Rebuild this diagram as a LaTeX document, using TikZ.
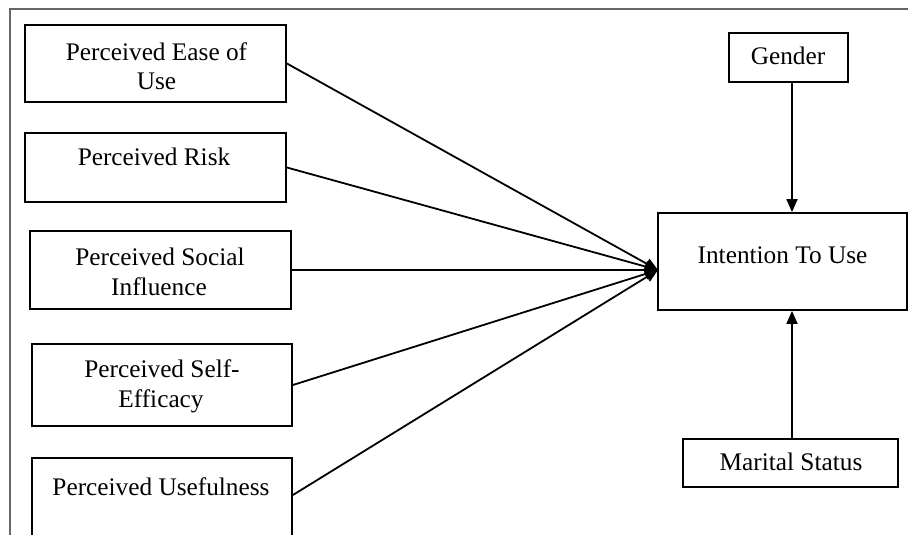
\documentclass[tikz,border=0pt]{standalone}
\usepackage{fontspec}
\setmainfont{Liberation Serif}
\usetikzlibrary{arrows.meta}
\begin{document}
\begin{tikzpicture}[x=1pt,y=-1pt,
  box/.style={draw=black,line width=1.8pt,inner sep=0pt,rectangle},
  txt/.style={anchor=base,inner sep=0pt,font=\fontsize{25.3}{30}\selectfont},
  arr/.style={line width=1.8pt,-{Triangle[length=13pt,width=11pt]}},
  frame/.style={draw=black!60,line width=1.3pt}]
\useasboundingbox (0,0) rectangle (908,535);
\clip (0,0) rectangle (908,535);
\fill[white] (0,0) rectangle (908,535);
\draw[frame] (10,540) -- (10,9) -- (910,9);
% left boxes
\node[box,minimum width=261pt,minimum height=77pt] (b1) at (155.5,63.5) {};
\node[box,minimum width=261pt,minimum height=69pt] (b2) at (155.5,167.5) {};
\node[box,minimum width=261pt,minimum height=78pt] (b3) at (160.5,270) {};
\node[box,minimum width=260pt,minimum height=82pt] (b4) at (162,385) {};
\node[box,minimum width=260pt,minimum height=80pt] (b5) at (162,498) {};
% right boxes
\node[box,minimum width=119pt,minimum height=49pt] (g) at (788.5,57.5) {};
\node[box,minimum width=249pt,minimum height=97pt] (it) at (782.5,261.5) {};
\node[box,minimum width=215pt,minimum height=48pt] (m) at (790.5,463) {};
% texts
\node[txt] (t1a) at (156.5,60) {Perceived Ease of};
\node[txt] (t1b) at (156.5,89) {Use};
\node[txt] (t2) at (154,165) {Perceived Risk};
\node[txt] (t3a) at (160,265) {Perceived Social};
\node[txt] (t3b) at (159,295) {Influence};
\node[txt] (t4a) at (162,377) {Perceived Self-};
\node[txt] (t4b) at (161,407) {Efficacy};
\node[txt] (t5) at (161,495) {Perceived Usefulness};
\node[txt] (tg) at (788,65) {Gender};
\node[txt] (ti) at (782.5,263) {Intention To Use};
\node[txt] (tm) at (791,470) {Marital Status};
% connectors
\coordinate (in) at (658,270);
\draw[arr] (b1.east) -- (in);
\draw[arr] (b2.east) -- (in);
\draw[arr] (b3.east) -- (in);
\draw[arr] (b4.east) -- (in);
\draw[arr] ([yshift=3pt]b5.east) -- (in);
\draw[arr] (g.south -| 792,0) -- (it.north -| 792,0);
\draw[arr] (m.north -| 792,0) -- (it.south -| 792,0);
\end{tikzpicture}
\end{document}
